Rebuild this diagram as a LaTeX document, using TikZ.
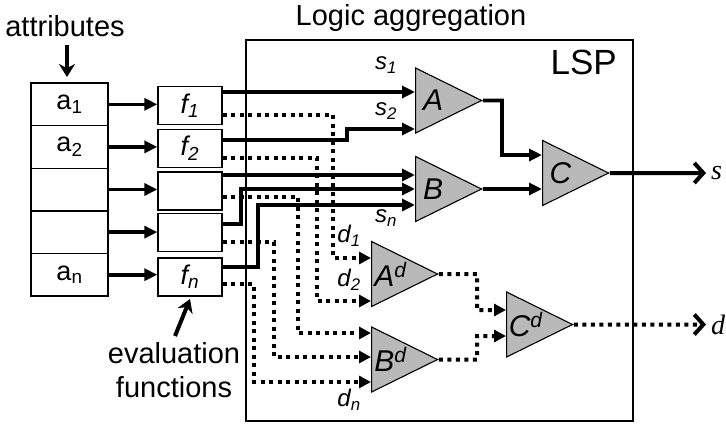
\documentclass[tikz,border=0pt]{standalone}
\usepackage{fontspec}
\setmainfont{Liberation Sans}
\newfontfamily\outfont{Liberation Serif}
\usepackage{tikz}
\usetikzlibrary{calc, shapes.geometric, arrows.meta}

\begin{document}
\begin{tikzpicture}[x=1pt,y=-1pt]
\tikzstyle{attr}=[draw,line width=1.4pt,minimum width=77pt,minimum height=42.6pt,inner sep=0pt,font=\fontsize{27}{27}\selectfont]
\tikzstyle{eval}=[draw,line width=1.4pt,minimum width=64pt,minimum height=38pt,inner sep=0pt,font=\fontsize{27}{27}\selectfont\itshape]
\tikzstyle{gate}=[isosceles triangle,isosceles triangle stretches,draw,line width=1.1pt,fill=gray!55,minimum width=65pt,minimum height=66pt,inner sep=0pt,anchor=west,font=\fontsize{30}{30}\selectfont\itshape]
\tikzstyle{sig}=[line width=3.6pt,-{Triangle[length=13pt,width=12pt]}]
\tikzstyle{dis}=[line width=4pt,dash pattern=on 4pt off 4.5pt,-{Triangle[length=12pt,width=12pt]}]
\tikzstyle{result}=[line width=4pt,-{Straight Barb[length=9pt,width=20pt]}]
\tikzstyle{lbl}=[font=\fontsize{24}{24}\selectfont\itshape,inner sep=0pt]
\tikzstyle{txt}=[font=\fontsize{29}{29}\selectfont,inner sep=0pt]
\useasboundingbox (0,0) rectangle (726,424);

% LSP frame
\node[draw,line width=1.4pt,minimum width=387pt,minimum height=381pt] (lsp) at (439.5,230.5) {};
\node[font=\fontsize{35}{35}\selectfont,anchor=north east,inner sep=0pt] (lspname) at (617,50) {LSP};
\node[txt] (title) at (411,18) {Logic aggregation};

% attributes and their evaluation functions
\node[attr] (a1) at (69.5,104.3) {a\textsubscript{1}};
\node[attr] (a2) at (69.5,146.9) {a\textsubscript{2}};
\node[attr] (a3) at (69.5,189.5) {};
\node[attr] (a4) at (69.5,232.1) {};
\node[attr] (a5) at (69.5,274.7) {a\textsubscript{n}};
\node[eval] (f1) at (190,105.5) {f\textsubscript{1}};
\node[eval] (f2) at (190,148.5) {f\textsubscript{2}};
\node[eval] (f3) at (190,191) {};
\node[eval] (f4) at (190,232.5) {};
\node[eval] (f5) at (190,277) {f\textsubscript{n}};
\foreach \i in {1,...,5}
  \draw[sig] (a\i.east) -- (a\i.east -| f\i.west);

\node[txt] (attrs) at (65,26) {attributes};
\node[txt] (evl) at (174,353) {evaluation};
\node[txt] (fns) at (174,387) {functions};
\coordinate (attrs-top) at (67,45);
\coordinate (attrs-tip) at (67,77);
\coordinate (evl-tip) at (190,299);
\draw[line width=4pt,-{Stealth[length=13pt,width=16pt]}] (attrs-top) -- (attrs-tip);
\draw[line width=4pt,-{Stealth[length=13pt,width=16pt]}] (175,336) -- (evl-tip);

% satisfaction gates
\node[gate] (A) at (415,100.5) {A};
\node[gate] (B) at (415,189) {B};
\node[gate] (C) at (542,173) {C};
\node[gate] (Ad) at (371,274) {A\textsuperscript{d}};
\node[gate] (Bd) at (371,359.5) {B\textsuperscript{d}};
\node[gate] (Cd) at (506,324.5) {C\textsuperscript{d}};

\coordinate (A-1) at (415,92);
\coordinate (A-2) at (415,129);
\coordinate (B-1) at (415,175);
\coordinate (B-2) at (415,189);
\coordinate (B-3) at (415,205);
\coordinate (C-1) at (542,155);
\coordinate (C-2) at (542,189);
\coordinate (Ad-1) at (371,258);
\coordinate (Ad-2) at (371,301);
\coordinate (Bd-1) at (371,333);
\coordinate (Bd-2) at (371,357);
\coordinate (Bd-3) at (371,382);
\coordinate (Cd-1) at (506,310);
\coordinate (Cd-2) at (506,336);
\coordinate (s-end) at (706,173);
\coordinate (d-end) at (706,324.5);

% solid wires
\draw[sig] (f1.east |- A-1) -- (A-1);
\draw[sig] (f2.east |- 0,140) -- (347,140) |- (A-2);
\draw[sig] (f3.east |- B-1) -- (B-1);
\draw[sig] (f4.east |- 0,224) -- (241,224) |- (B-2);
\draw[sig] (f5.east |- 0,267) -- (258,267) |- (B-3);
\draw[sig] (A.apex) -- (502,100.5) |- (C-1);
\draw[sig] (B.apex) -- (C-2);
\draw[result] (C.apex) -- (s-end);

% dotted wires
\draw[dis] (f1.east |- 0,115) -- (333,115) |- (Ad-1);
\draw[dis] (f2.east |- 0,158) -- (317,158) |- (Ad-2);
\draw[dis] (f3.east |- 0,197) -- (298,197) |- (Bd-1);
\draw[dis] (f4.east |- 0,242) -- (274,242) |- (Bd-2);
\draw[dis] (f5.east |- 0,284) -- (254,284) |- (Bd-3);
\draw[dis] (Ad.apex) -- (477,274) |- (Cd-1);
\draw[dis] (Bd.apex) -- (477,359.5) |- (Cd-2);
\draw[result,dash pattern=on 4pt off 4.5pt] (Cd.apex) -- (d-end);

% wire labels
\node[lbl] (s1) at (386,65) {s\textsubscript{1}};
\node[lbl] (s2) at (386,111) {s\textsubscript{2}};
\node[lbl] (sn) at (386,218) {s\textsubscript{n}};
\node[lbl] (d1) at (349,236) {d\textsubscript{1}};
\node[lbl] (d2) at (349,280) {d\textsubscript{2}};
\node[lbl] (dn) at (349,400) {d\textsubscript{n}};
\node[font=\fontsize{28}{28}\selectfont\outfont\itshape,anchor=west,inner sep=0pt] (s) at ([xshift=5pt]s-end) {s};
\node[font=\fontsize{28}{28}\selectfont\outfont\itshape,anchor=west,inner sep=0pt] (d) at ([xshift=5pt]d-end) {d};
\end{tikzpicture}
\end{document}
